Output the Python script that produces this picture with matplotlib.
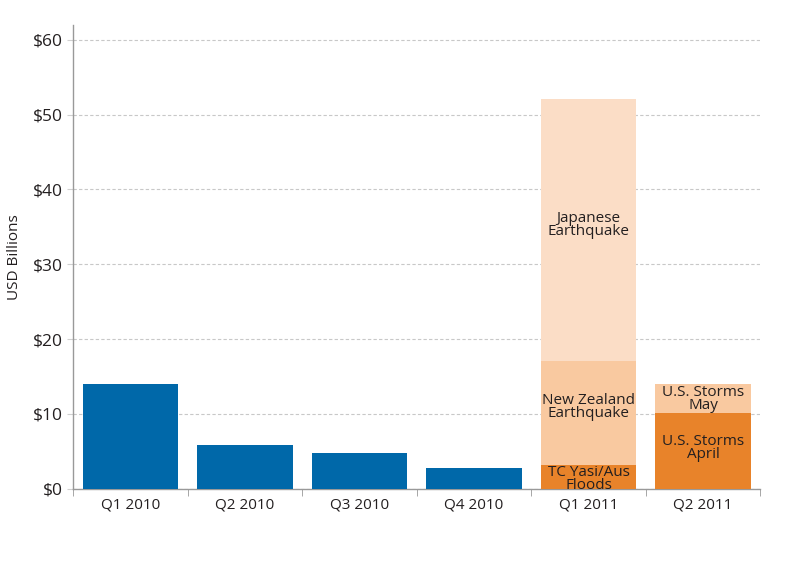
import matplotlib.pyplot as plt
import numpy as np

plt.rcParams['font.family'] = ['Open Sans', 'DejaVu Sans']
plt.rcParams['font.weight'] = 'medium'

# data (USD billions)
quarters = ["Q1 2010", "Q2 2010", "Q3 2010", "Q4 2010", "Q1 2011", "Q2 2011"]
totals_2010 = [14.0, 5.9, 4.8, 2.7]

# stacked 2011 segments, bottom to top
q1_2011_vals = [3.2, 13.9, 35.0]
q1_2011_labels = ["TC Yasi/Aus\nFloods", "New Zealand\nEarthquake", "Japanese\nEarthquake"]
q2_2011_vals = [10.1, 3.9]
q2_2011_labels = ["U.S. Storms\nApril", "U.S. Storms\nMay"]

blue = "#0068A9"
orange_colors = ["#E8832A", "#F9C9A0", "#FBDDC6"]
text_col = "#231F20"

fig = plt.figure(figsize=(8.03, 5.63), dpi=100)
ax = fig.add_axes([0.091, 0.132, 0.856, 0.824])

x = np.arange(len(quarters))
w = 0.835

ax.bar(x[:4], totals_2010, width=w, color=blue, zorder=3)

def stack(xpos, vals, labels, lab_offsets):
    bottom = 0
    for i, (v, lab) in enumerate(zip(vals, labels)):
        ax.bar(xpos, v, width=w, bottom=bottom, color=orange_colors[i], zorder=3)
        ax.text(xpos, bottom + v / 2 + lab_offsets[i], lab, ha='center', va='center',
                fontsize=11, color=text_col, linespacing=0.82, zorder=4)
        bottom += v

stack(x[4], q1_2011_vals, q1_2011_labels, [-0.3, 0.8, 0.6])
stack(x[5], q2_2011_vals, q2_2011_labels, [0.4, 0.0])

ax.set_xlim(-0.5, 5.5)
ax.set_ylim(0, 62)
ax.set_yticks(np.arange(0, 61, 10))
ax.set_yticklabels([f"${v}" for v in range(0, 61, 10)], fontsize=12.5, color=text_col)
ax.yaxis.grid(True, linestyle=(0, (3, 2)), color="#C8C8C8", linewidth=0.8, zorder=0)
ax.tick_params(axis='y', length=4, color="#D0D0D0", pad=3)

ax.set_xticks(x)
ax.set_xticklabels(quarters, fontsize=11, color=text_col)
ax.set_xticks(np.arange(-0.5, 5.6, 1), minor=True)
ax.tick_params(axis='x', which='major', length=0, pad=6)
ax.tick_params(axis='x', which='minor', length=5, color="#999999", direction='out')

for s in ['top', 'right']:
    ax.spines[s].set_visible(False)
for s in ['left', 'bottom']:
    ax.spines[s].set_color("#999999")
    ax.spines[s].set_linewidth(1.0)

ax.set_ylabel("USD Billions", fontsize=11, color=text_col, labelpad=8)

plt.savefig("out.png", dpi=100)
